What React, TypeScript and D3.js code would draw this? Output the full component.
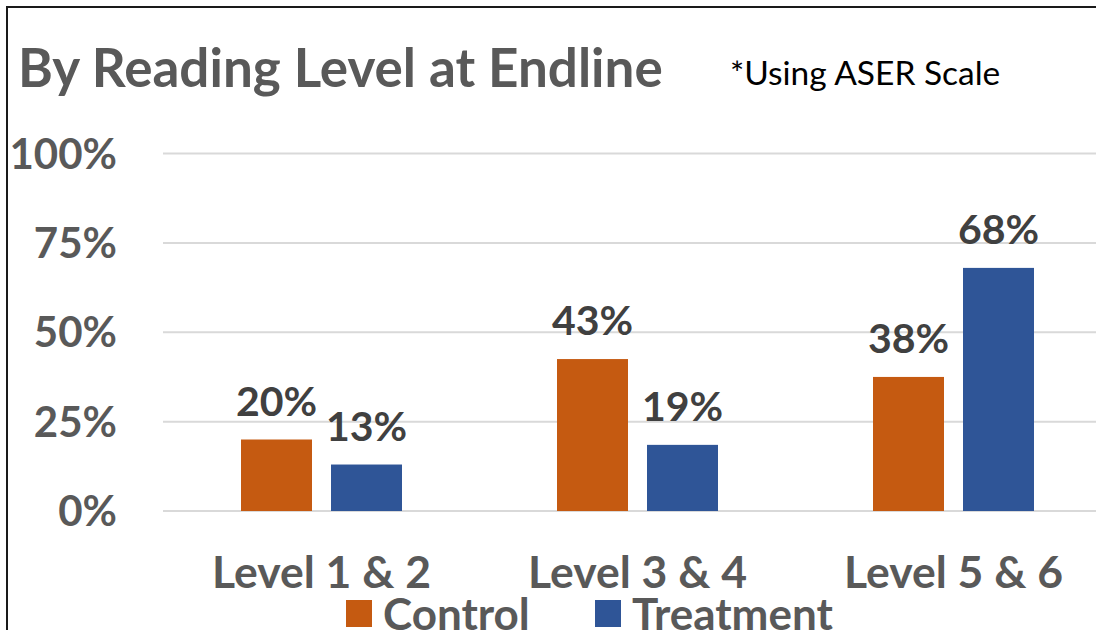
import React from "react";
import * as d3 from "d3";

const categories = ["Level 1 & 2", "Level 3 & 4", "Level 5 & 6"];
const series = ["Control", "Treatment"];
const controlValues = [20, 42.5, 37.5];
const treatmentValues = [13, 18.5, 68];
const yTicks = [0, 25, 50, 75, 100];
const colors = ["#C55A11", "#2F5597"];
const titleText = "By Reading Level at Endline";
const noteText = "*Using ASER Scale";

const W = 1096;
const H = 630;
const FONT = "Lato, 'Open Sans', sans-serif";

export default function App() {
  const y = d3.scaleLinear().domain([0, 100]).range([511, 153.5]);
  const x0 = d3
    .scaleBand<string>()
    .domain(categories)
    .range([163.5, 1111.5])
    .paddingInner(155 / 316)
    .paddingOuter(155 / 316 / 2);
  const x1 = d3
    .scaleBand<string>()
    .domain(series)
    .range([0, x0.bandwidth()])
    .paddingInner(19 / 90)
    .paddingOuter(0);
  const valuesBySeries = [controlValues, treatmentValues];
  const fmt = (v: number) => `${Math.round(v)}%`;

  return (
    <div style={{ position: "fixed", left: 0, top: 0, width: W, height: H, background: "#fff" }}>
      <svg width={W} height={H} style={{ display: "block" }} fontFamily={FONT}>
        <rect x={0} y={0} width={W} height={H} fill="#fff" />
        <rect x={7} y={7} width={W + 20} height={H + 20} fill="none" stroke="#1a1a1a" strokeWidth={2} />
        <text x={18} y={87} fontSize={53} fontWeight={700} fill="#595959">
          {titleText}
        </text>
        <text x={730} y={85} fontSize={33.5} fontWeight={400} fill="#000">
          {noteText}
        </text>
        {yTicks.map((t) => (
          <g key={t}>
            <line x1={163} x2={W + 20} y1={y(t)} y2={y(t)} stroke="#D9D9D9" strokeWidth={2} />
            <text x={117} y={y(t) + 15} textAnchor="end" fontSize={42} fontWeight={700} fill="#595959">
              {`${t}%`}
            </text>
          </g>
        ))}
        {categories.map((c, i) => (
          <g key={c} transform={`translate(${x0(c)},0)`}>
            {series.map((s, j) => {
              const v = valuesBySeries[j][i];
              const bx = x1(s) as number;
              return (
                <g key={s}>
                  <rect x={bx} y={y(v)} width={x1.bandwidth()} height={y(0) - y(v)} fill={colors[j]} />
                  <text
                    x={bx + x1.bandwidth() / 2}
                    y={y(v) - 24}
                    textAnchor="middle"
                    fontSize={41}
                    fontWeight={700}
                    fill="#404040"
                  >
                    {fmt(v)}
                  </text>
                </g>
              );
            })}
            <text x={x0.bandwidth() / 2} y={588} textAnchor="middle" fontSize={44.5} fontWeight={700} fill="#595959">
              {c}
            </text>
          </g>
        ))}
        {series.map((s, j) => {
          const lx = [346, 595][j];
          return (
            <g key={s}>
              <rect x={lx} y={600} width={26} height={27} fill={colors[j]} />
              <text x={lx + 37} y={630} fontSize={44} fontWeight={700} fill="#595959">
                {s}
              </text>
            </g>
          );
        })}
      </svg>
    </div>
  );
}
